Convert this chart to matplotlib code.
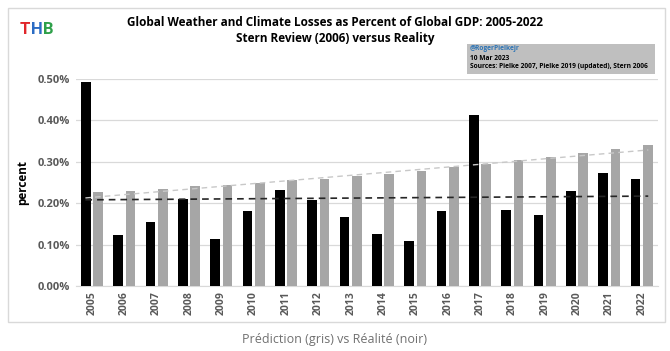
import numpy as np
import matplotlib.pyplot as plt
from matplotlib.patches import Rectangle

years = list(range(2005, 2023))
# black bars: observed losses (% of global GDP)
reality = [0.492, 0.124, 0.154, 0.211, 0.113, 0.180, 0.231, 0.207, 0.166,
           0.125, 0.109, 0.180, 0.413, 0.184, 0.171, 0.230, 0.273, 0.259]
# grey bars: Stern Review projection
prediction = [0.226, 0.230, 0.235, 0.240, 0.244, 0.248, 0.255, 0.259, 0.265,
              0.269, 0.277, 0.286, 0.294, 0.304, 0.312, 0.321, 0.330, 0.341]
yticks = [0.0, 0.1, 0.2, 0.3, 0.4, 0.5]

plt.rcParams['font.family'] = ['Open Sans', 'DejaVu Sans']

fig = plt.figure(figsize=(6.7, 3.51), dpi=100)
fig.patch.set_facecolor('white')

# outer frame
fig.patches.append(Rectangle((8 / 670, 1 - 322 / 351), 657 / 670, 314 / 351,
                             transform=fig.transFigure, fill=False,
                             edgecolor='#d9d9d9', linewidth=1))

ax = fig.add_axes([0.113, 0.185, 0.869, 0.591])
x = np.arange(len(years))
w = 0.3
ax.bar(x - 0.19, reality, width=w, color='black', zorder=3)
ax.bar(x + 0.19, prediction, width=w, color='#a6a6a6', zorder=3)

# linear trend lines
xs = np.array([x[0] - 0.2, x[-1] + 0.2])
b1 = np.polyfit(x, reality, 1)
b2 = np.polyfit(x, prediction, 1)
ax.plot(xs, np.polyval(b1, xs), '--', color='#262626', lw=1.2, zorder=4,
        dashes=(4, 3))
ax.plot(xs, np.polyval(b2, xs) - 0.004, '--', color='#c8c8c8', lw=1.0, zorder=4,
        dashes=(4, 3))

ax.set_xlim(-0.5, len(years) - 0.5)
ax.set_ylim(0, 0.5)
ax.set_yticks(yticks)
ax.set_yticklabels([f'{v:.2f}%' for v in yticks], fontsize=8,
                   color='#595959', fontweight='bold')
ax.set_xticks(x)
ax.set_xticklabels([str(y) for y in years], rotation=90, fontsize=7.5,
                   color='#595959', fontweight='bold')
ax.tick_params(length=0, pad=4)
ax.grid(axis='y', color='#d9d9d9', lw=0.9, zorder=0)
for s in ['top', 'right', 'left']:
    ax.spines[s].set_visible(False)
ax.spines['bottom'].set_color('#d9d9d9')
ax.set_ylabel('percent', fontsize=8.5, fontweight='bold', labelpad=6)

fig.text(0.5, 0.935, 'Global Weather and Climate Losses as Percent of Global GDP: 2005-2022',
         ha='center', va='center', fontsize=8.5, fontweight='bold')
fig.text(0.5, 0.89, 'Stern Review (2006) versus Reality',
         ha='center', va='center', fontsize=8.5, fontweight='bold')

# THB logo
logo_font = ['Roboto', 'DejaVu Sans']
for letter, xpos, col in [('T', 20, '#e0262b'), ('H', 30.5, '#2b6cc4'), ('B', 42.5, '#2ea04a')]:
    fig.text(xpos / 670, 1 - 29 / 351, letter, color=col, fontsize=12,
             fontweight='bold', va='center', ha='left', family=logo_font)

# source box
fig.patches.append(Rectangle((467 / 670, 1 - 74 / 351), 188 / 670, 30 / 351,
                             transform=fig.transFigure, facecolor='#bfbfbf',
                             edgecolor='none', zorder=5))
fig.text(470 / 670, 1 - 49 / 351, '@RogerPielkejr', color='#2e75b6', fontsize=4.8,
         fontweight='bold', va='center', zorder=6)
fig.text(470 / 670, 1 - 58 / 351, '10 Mar 2023', color='black', fontsize=4.8,
         fontweight='bold', va='center', zorder=6)
fig.text(470 / 670, 1 - 67 / 351, 'Sources: Pielke 2007, Pielke 2019 (updated), Stern 2006',
         color='black', fontsize=4.8, fontweight='bold', va='center', zorder=6)

fig.text(0.5, 1 - 340 / 351, 'Prédiction (gris) vs Réalité (noir)', ha='center',
         va='center', fontsize=9, color='#707070')

fig.savefig('out.png', dpi=100)
